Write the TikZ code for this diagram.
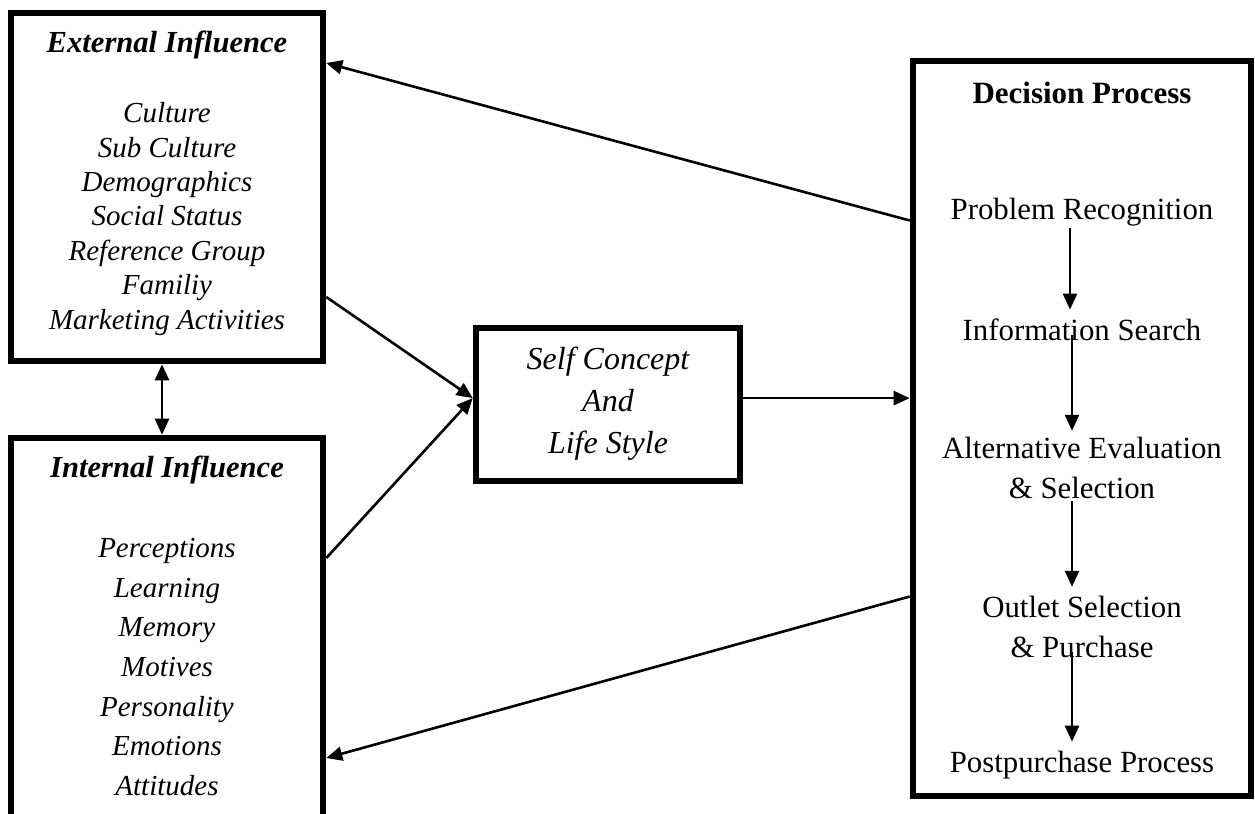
\documentclass[tikz,border=0pt]{standalone}
\usepackage{fontspec}
\setmainfont{Liberation Serif}
\usetikzlibrary{arrows.meta,positioning,calc}

\begin{document}
\begin{tikzpicture}[x=0.5pt,y=-0.5pt,>={Triangle[length=8pt,width=7pt]},
  box/.style={draw,line width=3.3pt,inner sep=0pt},
  head/.style={font=\fontsize{15.3}{18}\selectfont\bfseries\itshape},
  list/.style={align=center,inner sep=1pt},
  link/.style={->,line width=1.3pt}]
\useasboundingbox (0,0) rectangle (1255,814);
% boxes
\node[box,minimum width=156pt,minimum height=174pt] (ext) at (167,187){};
\node[box,minimum width=156pt,minimum height=196pt] (int) at (167,634){};
\node[box,minimum width=132pt,minimum height=76.5pt] (self) at (608,404.5){};
\node[box,minimum width=169pt,minimum height=367.5pt] (dec) at (1082,428.5){};
% texts
\node[head] (extT) at (167,45){External Influence};
\node[list,font=\fontsize{14.5}{17.2}\selectfont\itshape] (extL) at (167,219){Culture\\Sub Culture\\Demographics\\Social Status\\Reference Group\\Familiy\\Marketing Activities};
\node[head] (intT) at (167,470){Internal Influence};
\node[list,font=\fontsize{14.5}{19.8}\selectfont\itshape] (intL) at (167,667){Perceptions\\Learning\\Memory\\Motives\\Personality\\Emotions\\Attitudes};
\node[list,font=\fontsize{16}{21}\selectfont\itshape] (selfL) at (608,404){Self Concept\\And\\Life Style};
\node[font=\fontsize{15.5}{18}\selectfont\bfseries] (decT) at (1082,93){Decision Process};
\begin{scope}[every node/.style={list,font=\fontsize{15.4}{20}\selectfont}]
\node (prob) at (1082,212){Problem Recognition};
\node (info) at (1082,330){Information Search};
\node (alt) at (1082,468){Alternative Evaluation\\\& Selection};
\node (outl) at (1082,627){Outlet Selection\\\& Purchase};
\node (post) at (1082,765){Postpurchase Process};
\end{scope}
% steps of the decision process
\draw[link] ([xshift=-6pt]prob.south) -- ([xshift=-6pt,yshift=3.5pt]info.north);
\draw[link] ([xshift=-5pt,yshift=4pt]info.south) -- ([xshift=-5pt,yshift=2pt]alt.north);
\draw[link] ([xshift=-5pt]alt.south) -- ([xshift=-5pt,yshift=3.5pt]outl.north);
\draw[link] ([xshift=-5pt,yshift=4pt]outl.south) -- ([xshift=-5pt,yshift=3.5pt]post.north);
% influences
\coordinate (selfIn) at ([yshift=3.2pt]self.west);
\draw[link] ([yshift=-55pt]ext.east) -- (selfIn);
\draw[link] ([yshift=38pt]int.east) -- (selfIn);
\draw[link] ([yshift=3.2pt]self.east) -- ([yshift=3.2pt]self.east -| dec.west);
\draw[link] ([yshift=104pt]dec.west) -- ([yshift=62pt]ext.east);
\draw[link] ([yshift=-84pt]dec.west) -- ([yshift=-62pt]int.east);
\draw[link,<->] ([xshift=-2.5pt]ext.south) -- ([xshift=-2.5pt]int.north);
\end{tikzpicture}
\end{document}
